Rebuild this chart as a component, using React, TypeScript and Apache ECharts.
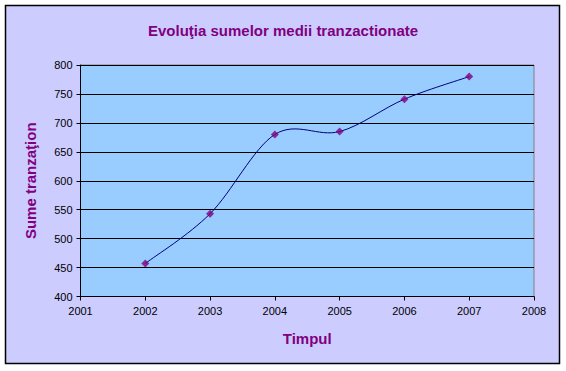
import React, { useEffect, useRef } from "react";
import * as echarts from "echarts";

const years = [2002, 2003, 2004, 2005, 2006, 2007];
const values = [457, 543, 680, 685, 741, 780];
const titleText = "Evoluţia sumelor medii tranzactionate";
const xName = "Timpul";
const yName = "Sume tranzaţion";

const FONT = "Arial, 'Liberation Sans', sans-serif";

function splinePath(pts: number[][]): string {
  // Excel-like Catmull-Rom smoothing (tension 1/6)
  let d = `M${pts[0][0]},${pts[0][1]}`;
  for (let i = 0; i < pts.length - 1; i++) {
    const p0 = pts[Math.max(i - 1, 0)];
    const p1 = pts[i];
    const p2 = pts[i + 1];
    const p3 = pts[Math.min(i + 2, pts.length - 1)];
    const c1x = p1[0] + (p2[0] - p0[0]) / 6;
    const c1y = p1[1] + (p2[1] - p0[1]) / 6;
    const c2x = p2[0] - (p3[0] - p1[0]) / 6;
    const c2y = p2[1] - (p3[1] - p1[1]) / 6;
    d += ` C${c1x},${c1y} ${c2x},${c2y} ${p2[0]},${p2[1]}`;
  }
  return d;
}

export default function App() {
  const ref = useRef<HTMLDivElement>(null);
  useEffect(() => {
    document.body.style.margin = "0";
    const chart = echarts.init(ref.current!, null, { renderer: "svg" });
    const pointData = years.map((y, i) => [y, values[i]]);
    chart.setOption({
      animation: false,
      backgroundColor: "#ffffff",
      graphic: [
        {
          type: "rect",
          z: -10,
          silent: true,
          shape: { x: 5.5, y: 5.5, width: 554, height: 358 },
          style: { fill: "#CCCCFF", stroke: "#000000", lineWidth: 1.5 },
        },
      ],
      title: {
        text: titleText,
        left: 143,
        top: 18,
        textStyle: { fontFamily: FONT, fontSize: 15, fontWeight: "bold", color: "#800080" },
      },
      grid: {
        left: 80.5,
        right: 32,
        top: 65,
        bottom: 74.5,
        show: true,
        backgroundColor: "#99CCFF",
        borderColor: "#808080",
        borderWidth: 1,
      },
      xAxis: {
        type: "value",
        min: 2001,
        max: 2008,
        interval: 1,
        name: xName,
        nameLocation: "middle",
        nameGap: 34,
        nameTextStyle: { fontFamily: FONT, fontSize: 15, fontWeight: "bold", color: "#800080" },
        axisLine: { show: true, lineStyle: { color: "#000000", width: 1 } },
        axisTick: { show: true, length: 4, lineStyle: { color: "#000000" } },
        axisLabel: {
          fontFamily: FONT,
          fontSize: 11,
          color: "#000000",
          margin: 9,
          formatter: (v: number) => String(v),
        },
        splitLine: { show: false },
      },
      yAxis: {
        type: "value",
        min: 400,
        max: 800,
        interval: 50,
        name: yName,
        nameLocation: "middle",
        nameRotate: 90,
        nameGap: 43,
        nameTextStyle: { fontFamily: FONT, fontSize: 15, fontWeight: "bold", color: "#800080" },
        axisLine: { show: true, lineStyle: { color: "#000000", width: 1 } },
        axisTick: { show: true, length: 4, lineStyle: { color: "#000000" } },
        axisLabel: { fontFamily: FONT, fontSize: 11, color: "#000000", margin: 8 },
        splitLine: { show: true, lineStyle: { color: "#000000", width: 1 } },
      },
      series: [
        {
          type: "custom",
          coordinateSystem: "cartesian2d",
          data: [pointData[0]],
          z: 2,
          silent: true,
          renderItem: (_params: any, api: any) => {
            const pts = pointData.map((p) => api.coord(p));
            return {
              type: "path",
              shape: { pathData: splinePath(pts) },
              style: { fill: "none", stroke: "#000080", lineWidth: 1 },
            };
          },
        },
        {
          type: "scatter",
          data: pointData,
          z: 3,
          symbol: "diamond",
          symbolSize: 8,
          itemStyle: { color: "#800080" },
        },
      ],
    });
    return () => chart.dispose();
  }, []);
  return (
    <div
      ref={ref}
      style={{ position: "absolute", left: 0, top: 0, width: 566, height: 371 }}
    />
  );
}
